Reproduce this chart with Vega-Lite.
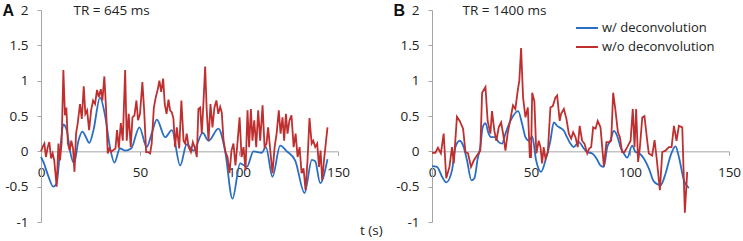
{
  "$schema": "https://vega.github.io/schema/vega-lite/v6.json",
  "padding": {"left": 2, "top": 2, "right": 0, "bottom": 4},
  "config": {
    "font": "Open Sans",
    "view": {"stroke": null},
    "axis": {"domainColor": "#a6a6a6", "tickColor": "#a6a6a6", "labelColor": "#222222", "labelFontSize": 13.5, "labelFont": "Open Sans", "grid": false, "labelFlush": false, "labelOverlap": false}
  },
  "title": {"text": "t (s)", "orient": "bottom", "anchor": "middle", "fontSize": 13.5, "fontWeight": "normal", "color": "#222222", "font": "Open Sans", "baseline": "top", "offset": -5},
  "datasets": {
    "d": [
      {"p":"A","s":"w/ deconvolution","t":0,"v":-0.08},
      {"p":"A","s":"w/ deconvolution","t":1.2,"v":-0.15},
      {"p":"A","s":"w/ deconvolution","t":3.7,"v":-0.35},
      {"p":"A","s":"w/ deconvolution","t":6.2,"v":-0.5},
      {"p":"A","s":"w/ deconvolution","t":7.9,"v":-0.45},
      {"p":"A","s":"w/ deconvolution","t":9.6,"v":0},
      {"p":"A","s":"w/ deconvolution","t":11.3,"v":0.38},
      {"p":"A","s":"w/ deconvolution","t":13.0,"v":0.3},
      {"p":"A","s":"w/ deconvolution","t":14.7,"v":0},
      {"p":"A","s":"w/ deconvolution","t":16.7,"v":-0.17},
      {"p":"A","s":"w/ deconvolution","t":18.9,"v":0.15},
      {"p":"A","s":"w/ deconvolution","t":20.9,"v":0.28},
      {"p":"A","s":"w/ deconvolution","t":22.7,"v":0.2},
      {"p":"A","s":"w/ deconvolution","t":24.4,"v":0.12},
      {"p":"A","s":"w/ deconvolution","t":26.5,"v":0.3},
      {"p":"A","s":"w/ deconvolution","t":29.8,"v":0.76},
      {"p":"A","s":"w/ deconvolution","t":32.4,"v":0.5},
      {"p":"A","s":"w/ deconvolution","t":34.9,"v":0.05},
      {"p":"A","s":"w/ deconvolution","t":37.1,"v":-0.16},
      {"p":"A","s":"w/ deconvolution","t":39.9,"v":0.04},
      {"p":"A","s":"w/ deconvolution","t":42.5,"v":0.01},
      {"p":"A","s":"w/ deconvolution","t":45.5,"v":0.04},
      {"p":"A","s":"w/ deconvolution","t":49.7,"v":0.34},
      {"p":"A","s":"w/ deconvolution","t":53.4,"v":0.06},
      {"p":"A","s":"w/ deconvolution","t":55.9,"v":0.25},
      {"p":"A","s":"w/ deconvolution","t":58.5,"v":0.45},
      {"p":"A","s":"w/ deconvolution","t":62.7,"v":0.2},
      {"p":"A","s":"w/ deconvolution","t":66.1,"v":0.3},
      {"p":"A","s":"w/ deconvolution","t":70.3,"v":-0.2},
      {"p":"A","s":"w/ deconvolution","t":73.6,"v":0.1},
      {"p":"A","s":"w/ deconvolution","t":77.0,"v":0.01},
      {"p":"A","s":"w/ deconvolution","t":81.7,"v":0.26},
      {"p":"A","s":"w/ deconvolution","t":84.6,"v":0.15},
      {"p":"A","s":"w/ deconvolution","t":89.6,"v":0.32},
      {"p":"A","s":"w/ deconvolution","t":93.0,"v":0.0},
      {"p":"A","s":"w/ deconvolution","t":96.7,"v":-0.67},
      {"p":"A","s":"w/ deconvolution","t":100.6,"v":-0.17},
      {"p":"A","s":"w/ deconvolution","t":104.0,"v":-0.22},
      {"p":"A","s":"w/ deconvolution","t":107.3,"v":0.0},
      {"p":"A","s":"w/ deconvolution","t":111.5,"v":-0.02},
      {"p":"A","s":"w/ deconvolution","t":113.6,"v":0.06},
      {"p":"A","s":"w/ deconvolution","t":116.9,"v":-0.36},
      {"p":"A","s":"w/ deconvolution","t":120.8,"v":0.08},
      {"p":"A","s":"w/ deconvolution","t":124.2,"v":0.0},
      {"p":"A","s":"w/ deconvolution","t":128.4,"v":-0.13},
      {"p":"A","s":"w/ deconvolution","t":133.1,"v":-0.59},
      {"p":"A","s":"w/ deconvolution","t":136.8,"v":-0.12},
      {"p":"A","s":"w/ deconvolution","t":138.5,"v":-0.14},
      {"p":"A","s":"w/ deconvolution","t":141.0,"v":-0.45},
      {"p":"A","s":"w/ deconvolution","t":144.7,"v":-0.11},
      {"p":"A","s":"w/o deconvolution","t":0,"v":0},
      {"p":"A","s":"w/o deconvolution","t":0.8,"v":0.06},
      {"p":"A","s":"w/o deconvolution","t":1.7,"v":0.11},
      {"p":"A","s":"w/o deconvolution","t":2.5,"v":-0.08},
      {"p":"A","s":"w/o deconvolution","t":3.4,"v":0.06},
      {"p":"A","s":"w/o deconvolution","t":4.2,"v":0.13},
      {"p":"A","s":"w/o deconvolution","t":5.1,"v":-0.1},
      {"p":"A","s":"w/o deconvolution","t":5.9,"v":-0.03},
      {"p":"A","s":"w/o deconvolution","t":6.7,"v":-0.13},
      {"p":"A","s":"w/o deconvolution","t":7.9,"v":-0.5},
      {"p":"A","s":"w/o deconvolution","t":8.8,"v":0.11},
      {"p":"A","s":"w/o deconvolution","t":9.6,"v":-0.13},
      {"p":"A","s":"w/o deconvolution","t":10.4,"v":0.11},
      {"p":"A","s":"w/o deconvolution","t":11.3,"v":1.15},
      {"p":"A","s":"w/o deconvolution","t":12.1,"v":0.51},
      {"p":"A","s":"w/o deconvolution","t":12.8,"v":0.62},
      {"p":"A","s":"w/o deconvolution","t":13.6,"v":0.11},
      {"p":"A","s":"w/o deconvolution","t":14.5,"v":0.01},
      {"p":"A","s":"w/o deconvolution","t":15.3,"v":0.15},
      {"p":"A","s":"w/o deconvolution","t":16.2,"v":0.04},
      {"p":"A","s":"w/o deconvolution","t":16.9,"v":-0.29},
      {"p":"A","s":"w/o deconvolution","t":17.7,"v":0.25},
      {"p":"A","s":"w/o deconvolution","t":18.5,"v":0.39},
      {"p":"A","s":"w/o deconvolution","t":19.7,"v":0.67},
      {"p":"A","s":"w/o deconvolution","t":20.6,"v":0.46},
      {"p":"A","s":"w/o deconvolution","t":21.6,"v":0.92},
      {"p":"A","s":"w/o deconvolution","t":22.4,"v":0.53},
      {"p":"A","s":"w/o deconvolution","t":23.3,"v":0.58},
      {"p":"A","s":"w/o deconvolution","t":24.3,"v":0.3},
      {"p":"A","s":"w/o deconvolution","t":25.3,"v":0.58},
      {"p":"A","s":"w/o deconvolution","t":26.3,"v":0.72},
      {"p":"A","s":"w/o deconvolution","t":27.3,"v":0.67},
      {"p":"A","s":"w/o deconvolution","t":28.3,"v":0.87},
      {"p":"A","s":"w/o deconvolution","t":29.2,"v":0.77},
      {"p":"A","s":"w/o deconvolution","t":30.2,"v":0.88},
      {"p":"A","s":"w/o deconvolution","t":31.0,"v":0.72},
      {"p":"A","s":"w/o deconvolution","t":32.0,"v":1.06},
      {"p":"A","s":"w/o deconvolution","t":32.9,"v":0.58},
      {"p":"A","s":"w/o deconvolution","t":33.7,"v":-0.03},
      {"p":"A","s":"w/o deconvolution","t":34.5,"v":0.04},
      {"p":"A","s":"w/o deconvolution","t":35.4,"v":-0.01},
      {"p":"A","s":"w/o deconvolution","t":36.6,"v":0.02},
      {"p":"A","s":"w/o deconvolution","t":37.6,"v":0.04},
      {"p":"A","s":"w/o deconvolution","t":38.4,"v":0.3},
      {"p":"A","s":"w/o deconvolution","t":39.3,"v":0.04},
      {"p":"A","s":"w/o deconvolution","t":40.3,"v":0.4},
      {"p":"A","s":"w/o deconvolution","t":41.3,"v":0.15},
      {"p":"A","s":"w/o deconvolution","t":42.5,"v":1.15},
      {"p":"A","s":"w/o deconvolution","t":43.3,"v":0.15},
      {"p":"A","s":"w/o deconvolution","t":44.3,"v":0.53},
      {"p":"A","s":"w/o deconvolution","t":45.3,"v":0.06},
      {"p":"A","s":"w/o deconvolution","t":46.2,"v":0.48},
      {"p":"A","s":"w/o deconvolution","t":47.2,"v":0.51},
      {"p":"A","s":"w/o deconvolution","t":48.2,"v":0.72},
      {"p":"A","s":"w/o deconvolution","t":49.0,"v":0.44},
      {"p":"A","s":"w/o deconvolution","t":50.0,"v":0.53},
      {"p":"A","s":"w/o deconvolution","t":51.2,"v":0.98},
      {"p":"A","s":"w/o deconvolution","t":52.1,"v":0.58},
      {"p":"A","s":"w/o deconvolution","t":53.1,"v":-0.01},
      {"p":"A","s":"w/o deconvolution","t":54.1,"v":-0.01},
      {"p":"A","s":"w/o deconvolution","t":55.1,"v":-0.03},
      {"p":"A","s":"w/o deconvolution","t":55.9,"v":0.11},
      {"p":"A","s":"w/o deconvolution","t":57.0,"v":0.62},
      {"p":"A","s":"w/o deconvolution","t":58.0,"v":0.77},
      {"p":"A","s":"w/o deconvolution","t":59.0,"v":0.88},
      {"p":"A","s":"w/o deconvolution","t":59.8,"v":1.0},
      {"p":"A","s":"w/o deconvolution","t":60.7,"v":0.84},
      {"p":"A","s":"w/o deconvolution","t":61.7,"v":1.03},
      {"p":"A","s":"w/o deconvolution","t":62.5,"v":0.67},
      {"p":"A","s":"w/o deconvolution","t":63.4,"v":0.53},
      {"p":"A","s":"w/o deconvolution","t":64.4,"v":0.73},
      {"p":"A","s":"w/o deconvolution","t":65.2,"v":0.58},
      {"p":"A","s":"w/o deconvolution","t":66.1,"v":0.55},
      {"p":"A","s":"w/o deconvolution","t":66.9,"v":0.46},
      {"p":"A","s":"w/o deconvolution","t":67.7,"v":0.06},
      {"p":"A","s":"w/o deconvolution","t":68.6,"v":0.34},
      {"p":"A","s":"w/o deconvolution","t":69.8,"v":0.04},
      {"p":"A","s":"w/o deconvolution","t":70.9,"v":0.72},
      {"p":"A","s":"w/o deconvolution","t":72.0,"v":0.15},
      {"p":"A","s":"w/o deconvolution","t":72.8,"v":0.11},
      {"p":"A","s":"w/o deconvolution","t":73.6,"v":0.25},
      {"p":"A","s":"w/o deconvolution","t":74.6,"v":0.06},
      {"p":"A","s":"w/o deconvolution","t":75.7,"v":-0.01},
      {"p":"A","s":"w/o deconvolution","t":76.7,"v":0.13},
      {"p":"A","s":"w/o deconvolution","t":77.8,"v":0.04},
      {"p":"A","s":"w/o deconvolution","t":78.7,"v":-0.08},
      {"p":"A","s":"w/o deconvolution","t":79.5,"v":0.6},
      {"p":"A","s":"w/o deconvolution","t":80.4,"v":0.62},
      {"p":"A","s":"w/o deconvolution","t":81.2,"v":0.25},
      {"p":"A","s":"w/o deconvolution","t":82.1,"v":0.72},
      {"p":"A","s":"w/o deconvolution","t":82.9,"v":1.2},
      {"p":"A","s":"w/o deconvolution","t":83.7,"v":0.58},
      {"p":"A","s":"w/o deconvolution","t":84.6,"v":0.15},
      {"p":"A","s":"w/o deconvolution","t":85.6,"v":0.67},
      {"p":"A","s":"w/o deconvolution","t":86.6,"v":0.34},
      {"p":"A","s":"w/o deconvolution","t":87.6,"v":0.62},
      {"p":"A","s":"w/o deconvolution","t":88.6,"v":0.72},
      {"p":"A","s":"w/o deconvolution","t":89.5,"v":0.53},
      {"p":"A","s":"w/o deconvolution","t":90.5,"v":0.63},
      {"p":"A","s":"w/o deconvolution","t":91.3,"v":0.55},
      {"p":"A","s":"w/o deconvolution","t":92.2,"v":0.15},
      {"p":"A","s":"w/o deconvolution","t":93.2,"v":-0.01},
      {"p":"A","s":"w/o deconvolution","t":94.2,"v":-0.08},
      {"p":"A","s":"w/o deconvolution","t":95.2,"v":-0.31},
      {"p":"A","s":"w/o deconvolution","t":96.2,"v":0.01},
      {"p":"A","s":"w/o deconvolution","t":97.2,"v":0.11},
      {"p":"A","s":"w/o deconvolution","t":98.2,"v":-0.2},
      {"p":"A","s":"w/o deconvolution","t":99.2,"v":0.11},
      {"p":"A","s":"w/o deconvolution","t":100.3,"v":0.48},
      {"p":"A","s":"w/o deconvolution","t":101.3,"v":-0.08},
      {"p":"A","s":"w/o deconvolution","t":102.3,"v":0.06},
      {"p":"A","s":"w/o deconvolution","t":103.3,"v":-0.27},
      {"p":"A","s":"w/o deconvolution","t":104.3,"v":0.58},
      {"p":"A","s":"w/o deconvolution","t":105.1,"v":0.06},
      {"p":"A","s":"w/o deconvolution","t":106.0,"v":0.6},
      {"p":"A","s":"w/o deconvolution","t":106.8,"v":0.15},
      {"p":"A","s":"w/o deconvolution","t":107.7,"v":0.44},
      {"p":"A","s":"w/o deconvolution","t":108.7,"v":0.06},
      {"p":"A","s":"w/o deconvolution","t":109.7,"v":0.58},
      {"p":"A","s":"w/o deconvolution","t":110.7,"v":0.15},
      {"p":"A","s":"w/o deconvolution","t":111.9,"v":0.65},
      {"p":"A","s":"w/o deconvolution","t":112.9,"v":0.06},
      {"p":"A","s":"w/o deconvolution","t":113.9,"v":0.11},
      {"p":"A","s":"w/o deconvolution","t":114.7,"v":0.34},
      {"p":"A","s":"w/o deconvolution","t":115.8,"v":0.01},
      {"p":"A","s":"w/o deconvolution","t":116.9,"v":-0.31},
      {"p":"A","s":"w/o deconvolution","t":118.0,"v":0.06},
      {"p":"A","s":"w/o deconvolution","t":119.0,"v":0.25},
      {"p":"A","s":"w/o deconvolution","t":120.1,"v":0.58},
      {"p":"A","s":"w/o deconvolution","t":121.0,"v":0.25},
      {"p":"A","s":"w/o deconvolution","t":122.0,"v":0.48},
      {"p":"A","s":"w/o deconvolution","t":122.8,"v":0.15},
      {"p":"A","s":"w/o deconvolution","t":123.7,"v":0.53},
      {"p":"A","s":"w/o deconvolution","t":124.5,"v":0.25},
      {"p":"A","s":"w/o deconvolution","t":125.5,"v":0.44},
      {"p":"A","s":"w/o deconvolution","t":126.5,"v":0.51},
      {"p":"A","s":"w/o deconvolution","t":127.6,"v":0.06},
      {"p":"A","s":"w/o deconvolution","t":128.6,"v":0.25},
      {"p":"A","s":"w/o deconvolution","t":129.6,"v":-0.08},
      {"p":"A","s":"w/o deconvolution","t":130.6,"v":0.06},
      {"p":"A","s":"w/o deconvolution","t":131.6,"v":-0.31},
      {"p":"A","s":"w/o deconvolution","t":132.6,"v":-0.24},
      {"p":"A","s":"w/o deconvolution","t":133.6,"v":-0.55},
      {"p":"A","s":"w/o deconvolution","t":134.6,"v":-0.13},
      {"p":"A","s":"w/o deconvolution","t":135.6,"v":0.47},
      {"p":"A","s":"w/o deconvolution","t":136.7,"v":0.11},
      {"p":"A","s":"w/o deconvolution","t":137.5,"v":0.15},
      {"p":"A","s":"w/o deconvolution","t":138.5,"v":0.06},
      {"p":"A","s":"w/o deconvolution","t":139.5,"v":0.11},
      {"p":"A","s":"w/o deconvolution","t":140.4,"v":-0.22},
      {"p":"A","s":"w/o deconvolution","t":141.2,"v":0.01},
      {"p":"A","s":"w/o deconvolution","t":142.0,"v":-0.41},
      {"p":"A","s":"w/o deconvolution","t":143.1,"v":-0.08},
      {"p":"A","s":"w/o deconvolution","t":144.7,"v":0.34},
      {"p":"B","s":"w/ deconvolution","t":0,"v":-0.21},
      {"p":"B","s":"w/ deconvolution","t":2.5,"v":-0.22},
      {"p":"B","s":"w/ deconvolution","t":5.1,"v":-0.36},
      {"p":"B","s":"w/ deconvolution","t":7.2,"v":-0.44},
      {"p":"B","s":"w/ deconvolution","t":10.1,"v":-0.27},
      {"p":"B","s":"w/ deconvolution","t":11.8,"v":0.06},
      {"p":"B","s":"w/ deconvolution","t":14.0,"v":0.15},
      {"p":"B","s":"w/ deconvolution","t":16.0,"v":0.06},
      {"p":"B","s":"w/ deconvolution","t":17.7,"v":-0.13},
      {"p":"B","s":"w/ deconvolution","t":19.9,"v":-0.41},
      {"p":"B","s":"w/ deconvolution","t":21.4,"v":-0.38},
      {"p":"B","s":"w/ deconvolution","t":23.1,"v":-0.1},
      {"p":"B","s":"w/ deconvolution","t":24.4,"v":0.06},
      {"p":"B","s":"w/ deconvolution","t":25.6,"v":0.34},
      {"p":"B","s":"w/ deconvolution","t":27.0,"v":0.4},
      {"p":"B","s":"w/ deconvolution","t":28.6,"v":0.25},
      {"p":"B","s":"w/ deconvolution","t":29.8,"v":0.2},
      {"p":"B","s":"w/ deconvolution","t":31.7,"v":0.2},
      {"p":"B","s":"w/ deconvolution","t":33.7,"v":0.13},
      {"p":"B","s":"w/ deconvolution","t":35.4,"v":0.11},
      {"p":"B","s":"w/ deconvolution","t":37.1,"v":0.25},
      {"p":"B","s":"w/ deconvolution","t":39.6,"v":0.43},
      {"p":"B","s":"w/ deconvolution","t":43.5,"v":0.57},
      {"p":"B","s":"w/ deconvolution","t":45.5,"v":0.39},
      {"p":"B","s":"w/ deconvolution","t":47.2,"v":0.2},
      {"p":"B","s":"w/ deconvolution","t":48.9,"v":0.15},
      {"p":"B","s":"w/ deconvolution","t":50.6,"v":0.21},
      {"p":"B","s":"w/ deconvolution","t":52.6,"v":-0.13},
      {"p":"B","s":"w/ deconvolution","t":55.1,"v":-0.29},
      {"p":"B","s":"w/ deconvolution","t":57.3,"v":-0.13},
      {"p":"B","s":"w/ deconvolution","t":59.8,"v":0.15},
      {"p":"B","s":"w/ deconvolution","t":61.5,"v":0.41},
      {"p":"B","s":"w/ deconvolution","t":63.2,"v":0.36},
      {"p":"B","s":"w/ deconvolution","t":64.9,"v":0.33},
      {"p":"B","s":"w/ deconvolution","t":66.6,"v":0.29},
      {"p":"B","s":"w/ deconvolution","t":68.2,"v":0.2},
      {"p":"B","s":"w/ deconvolution","t":69.9,"v":0.11},
      {"p":"B","s":"w/ deconvolution","t":71.6,"v":0.06},
      {"p":"B","s":"w/ deconvolution","t":74.1,"v":0.13},
      {"p":"B","s":"w/ deconvolution","t":76.7,"v":0.04},
      {"p":"B","s":"w/ deconvolution","t":78.4,"v":-0.01},
      {"p":"B","s":"w/ deconvolution","t":80.9,"v":-0.03},
      {"p":"B","s":"w/ deconvolution","t":83.1,"v":-0.1},
      {"p":"B","s":"w/ deconvolution","t":85.1,"v":-0.2},
      {"p":"B","s":"w/ deconvolution","t":86.8,"v":-0.22},
      {"p":"B","s":"w/ deconvolution","t":88.5,"v":0.06},
      {"p":"B","s":"w/ deconvolution","t":90.1,"v":0.15},
      {"p":"B","s":"w/ deconvolution","t":91.8,"v":0.29},
      {"p":"B","s":"w/ deconvolution","t":93.5,"v":0.22},
      {"p":"B","s":"w/ deconvolution","t":95.2,"v":0.06},
      {"p":"B","s":"w/ deconvolution","t":96.9,"v":-0.03},
      {"p":"B","s":"w/ deconvolution","t":98.6,"v":-0.09},
      {"p":"B","s":"w/ deconvolution","t":101.1,"v":0.08},
      {"p":"B","s":"w/ deconvolution","t":102.8,"v":-0.01},
      {"p":"B","s":"w/ deconvolution","t":104.8,"v":-0.03},
      {"p":"B","s":"w/ deconvolution","t":107.0,"v":-0.1},
      {"p":"B","s":"w/ deconvolution","t":109.5,"v":-0.24},
      {"p":"B","s":"w/ deconvolution","t":112.1,"v":-0.43},
      {"p":"B","s":"w/ deconvolution","t":115.4,"v":-0.48},
      {"p":"B","s":"w/ deconvolution","t":118.0,"v":-0.31},
      {"p":"B","s":"w/ deconvolution","t":120.5,"v":-0.06},
      {"p":"B","s":"w/ deconvolution","t":123.0,"v":0.07},
      {"p":"B","s":"w/ deconvolution","t":124.7,"v":-0.08},
      {"p":"B","s":"w/ deconvolution","t":127.2,"v":-0.41},
      {"p":"B","s":"w/ deconvolution","t":129.7,"v":-0.52},
      {"p":"B","s":"w/o deconvolution","t":0,"v":-0.02},
      {"p":"B","s":"w/o deconvolution","t":1.7,"v":-0.02},
      {"p":"B","s":"w/o deconvolution","t":3.0,"v":0.05},
      {"p":"B","s":"w/o deconvolution","t":4.5,"v":-0.03},
      {"p":"B","s":"w/o deconvolution","t":5.9,"v":0.25},
      {"p":"B","s":"w/o deconvolution","t":7.2,"v":-0.38},
      {"p":"B","s":"w/o deconvolution","t":8.8,"v":-0.22},
      {"p":"B","s":"w/o deconvolution","t":10.1,"v":0.06},
      {"p":"B","s":"w/o deconvolution","t":11.0,"v":-0.17},
      {"p":"B","s":"w/o deconvolution","t":12.6,"v":0.49},
      {"p":"B","s":"w/o deconvolution","t":14.0,"v":0.43},
      {"p":"B","s":"w/o deconvolution","t":15.7,"v":0.32},
      {"p":"B","s":"w/o deconvolution","t":16.9,"v":-0.01},
      {"p":"B","s":"w/o deconvolution","t":18.2,"v":-0.03},
      {"p":"B","s":"w/o deconvolution","t":19.7,"v":-0.22},
      {"p":"B","s":"w/o deconvolution","t":21.1,"v":-0.13},
      {"p":"B","s":"w/o deconvolution","t":22.7,"v":-0.06},
      {"p":"B","s":"w/o deconvolution","t":24.4,"v":0.01},
      {"p":"B","s":"w/o deconvolution","t":25.3,"v":0.83},
      {"p":"B","s":"w/o deconvolution","t":27.0,"v":0.91},
      {"p":"B","s":"w/o deconvolution","t":28.1,"v":0.43},
      {"p":"B","s":"w/o deconvolution","t":29.5,"v":0.25},
      {"p":"B","s":"w/o deconvolution","t":30.3,"v":0.57},
      {"p":"B","s":"w/o deconvolution","t":31.5,"v":0.29},
      {"p":"B","s":"w/o deconvolution","t":32.5,"v":0.15},
      {"p":"B","s":"w/o deconvolution","t":33.7,"v":0.34},
      {"p":"B","s":"w/o deconvolution","t":34.9,"v":0.41},
      {"p":"B","s":"w/o deconvolution","t":35.9,"v":0.25},
      {"p":"B","s":"w/o deconvolution","t":37.1,"v":0.01},
      {"p":"B","s":"w/o deconvolution","t":38.2,"v":0.25},
      {"p":"B","s":"w/o deconvolution","t":39.9,"v":0.5},
      {"p":"B","s":"w/o deconvolution","t":40.9,"v":0.65},
      {"p":"B","s":"w/o deconvolution","t":42.1,"v":0.6},
      {"p":"B","s":"w/o deconvolution","t":43.3,"v":0.86},
      {"p":"B","s":"w/o deconvolution","t":44.1,"v":1.0},
      {"p":"B","s":"w/o deconvolution","t":45.0,"v":1.46},
      {"p":"B","s":"w/o deconvolution","t":46.0,"v":0.76},
      {"p":"B","s":"w/o deconvolution","t":47.2,"v":0.48},
      {"p":"B","s":"w/o deconvolution","t":48.4,"v":0.62},
      {"p":"B","s":"w/o deconvolution","t":49.4,"v":-0.08},
      {"p":"B","s":"w/o deconvolution","t":50.0,"v":-0.08},
      {"p":"B","s":"w/o deconvolution","t":50.6,"v":0.83},
      {"p":"B","s":"w/o deconvolution","t":51.7,"v":0.71},
      {"p":"B","s":"w/o deconvolution","t":52.7,"v":-0.03},
      {"p":"B","s":"w/o deconvolution","t":53.9,"v":0.15},
      {"p":"B","s":"w/o deconvolution","t":54.8,"v":0.06},
      {"p":"B","s":"w/o deconvolution","t":55.6,"v":-0.17},
      {"p":"B","s":"w/o deconvolution","t":56.4,"v":0.06},
      {"p":"B","s":"w/o deconvolution","t":57.3,"v":-0.1},
      {"p":"B","s":"w/o deconvolution","t":58.5,"v":-0.01},
      {"p":"B","s":"w/o deconvolution","t":59.8,"v":0.62},
      {"p":"B","s":"w/o deconvolution","t":61.0,"v":0.64},
      {"p":"B","s":"w/o deconvolution","t":62.3,"v":0.76},
      {"p":"B","s":"w/o deconvolution","t":63.2,"v":0.79},
      {"p":"B","s":"w/o deconvolution","t":64.5,"v":0.43},
      {"p":"B","s":"w/o deconvolution","t":65.2,"v":0.53},
      {"p":"B","s":"w/o deconvolution","t":66.6,"v":0.6},
      {"p":"B","s":"w/o deconvolution","t":67.9,"v":0.46},
      {"p":"B","s":"w/o deconvolution","t":69.1,"v":0.25},
      {"p":"B","s":"w/o deconvolution","t":70.3,"v":0.18},
      {"p":"B","s":"w/o deconvolution","t":71.3,"v":0.27},
      {"p":"B","s":"w/o deconvolution","t":72.5,"v":0.2},
      {"p":"B","s":"w/o deconvolution","t":73.6,"v":0.06},
      {"p":"B","s":"w/o deconvolution","t":74.6,"v":0.36},
      {"p":"B","s":"w/o deconvolution","t":75.8,"v":0.15},
      {"p":"B","s":"w/o deconvolution","t":77.0,"v":0.11},
      {"p":"B","s":"w/o deconvolution","t":78.4,"v":-0.03},
      {"p":"B","s":"w/o deconvolution","t":79.4,"v":0.04},
      {"p":"B","s":"w/o deconvolution","t":80.4,"v":0.06},
      {"p":"B","s":"w/o deconvolution","t":81.4,"v":0.34},
      {"p":"B","s":"w/o deconvolution","t":82.6,"v":0.32},
      {"p":"B","s":"w/o deconvolution","t":83.7,"v":0.43},
      {"p":"B","s":"w/o deconvolution","t":85.1,"v":0.34},
      {"p":"B","s":"w/o deconvolution","t":86.8,"v":-0.21},
      {"p":"B","s":"w/o deconvolution","t":88.1,"v":0.13},
      {"p":"B","s":"w/o deconvolution","t":89.3,"v":0.13},
      {"p":"B","s":"w/o deconvolution","t":90.5,"v":0.15},
      {"p":"B","s":"w/o deconvolution","t":91.5,"v":0.83},
      {"p":"B","s":"w/o deconvolution","t":92.7,"v":0.57},
      {"p":"B","s":"w/o deconvolution","t":93.9,"v":0.27},
      {"p":"B","s":"w/o deconvolution","t":94.9,"v":0.2},
      {"p":"B","s":"w/o deconvolution","t":96.0,"v":-0.01},
      {"p":"B","s":"w/o deconvolution","t":97.2,"v":-0.01},
      {"p":"B","s":"w/o deconvolution","t":98.6,"v":0.06},
      {"p":"B","s":"w/o deconvolution","t":100.3,"v":0.15},
      {"p":"B","s":"w/o deconvolution","t":101.4,"v":0.6},
      {"p":"B","s":"w/o deconvolution","t":102.3,"v":0.06},
      {"p":"B","s":"w/o deconvolution","t":103.1,"v":0.6},
      {"p":"B","s":"w/o deconvolution","t":104.1,"v":-0.15},
      {"p":"B","s":"w/o deconvolution","t":105.0,"v":0.06},
      {"p":"B","s":"w/o deconvolution","t":106.2,"v":0.48},
      {"p":"B","s":"w/o deconvolution","t":107.3,"v":0.5},
      {"p":"B","s":"w/o deconvolution","t":108.7,"v":0.15},
      {"p":"B","s":"w/o deconvolution","t":109.5,"v":-0.03},
      {"p":"B","s":"w/o deconvolution","t":111.2,"v":-0.06},
      {"p":"B","s":"w/o deconvolution","t":112.4,"v":0.16},
      {"p":"B","s":"w/o deconvolution","t":113.4,"v":-0.08},
      {"p":"B","s":"w/o deconvolution","t":115.1,"v":-0.55},
      {"p":"B","s":"w/o deconvolution","t":116.3,"v":-0.01},
      {"p":"B","s":"w/o deconvolution","t":117.9,"v":0.01},
      {"p":"B","s":"w/o deconvolution","t":119.6,"v":0.06},
      {"p":"B","s":"w/o deconvolution","t":121.0,"v":0.06},
      {"p":"B","s":"w/o deconvolution","t":122.2,"v":0.36},
      {"p":"B","s":"w/o deconvolution","t":123.5,"v":0.15},
      {"p":"B","s":"w/o deconvolution","t":124.7,"v":0.36},
      {"p":"B","s":"w/o deconvolution","t":126.4,"v":0.34},
      {"p":"B","s":"w/o deconvolution","t":127.7,"v":-0.87},
      {"p":"B","s":"w/o deconvolution","t":128.9,"v":-0.29}
    ]
  },
  "spacing": 43,
  "resolve": {"scale": {"color": "independent"}},
  "hconcat": [
    {
      "width": 297,
      "height": 212,
      "data": {"name": "d"},
      "transform": [{"filter": "datum.p === 'A'"}],
      "encoding": {
        "x": {"field": "t", "type": "quantitative", "scale": {"domain": [0, 150], "nice": false},
          "axis": {"values": [0, 50, 100, 150], "offset": -70.67, "tickSize": 4, "labelPadding": 10,
            "title": "TR = 645 ms", "titleX": 32, "titleY": -141, "titleAlign": "left", "titleBaseline": "middle",
            "titleFontSize": 13.5, "titleFontWeight": "normal", "titleColor": "#222222"}},
        "y": {"field": "v", "type": "quantitative", "scale": {"domain": [-1, 2], "nice": false},
          "axis": {"values": [-1, -0.5, 0, 0.5, 1, 1.5, 2], "tickSize": 4, "labelPadding": 9, "labelOverlap": false,
            "labelExpr": "replace(format(datum.value, '~g'), '\u2212', '-')",
            "title": "A", "titleAngle": 0, "titleX": -39, "titleY": 0, "titleAlign": "left", "titleBaseline": "middle",
            "titleFont": "Liberation Sans", "titleFontSize": 16, "titleFontWeight": "bold", "titleColor": "#111111"}},
        "color": {"field": "s", "type": "nominal",
          "scale": {"domain": ["w/ deconvolution", "w/o deconvolution"], "range": ["#2a6ec4", "#bf2f2f"]},
          "legend": null}
      },
      "layer": [
        {
          "transform": [{"filter": "datum.s === 'w/ deconvolution'"}],
          "mark": {"type": "line", "strokeWidth": 1.8, "interpolate": "monotone"}
        },
        {
          "transform": [{"filter": "datum.s === 'w/o deconvolution'"}],
          "mark": {"type": "line", "strokeWidth": 1.8}
        }
      ]
    },
    {
      "width": 297,
      "height": 212,
      "data": {"name": "d"},
      "transform": [{"filter": "datum.p === 'B'"}],
      "encoding": {
        "x": {"field": "t", "type": "quantitative", "scale": {"domain": [0, 150], "nice": false},
          "axis": {"values": [0, 50, 100, 150], "offset": -70.67, "tickSize": 4, "labelPadding": 10,
            "title": "TR = 1400 ms", "titleX": 30, "titleY": -141, "titleAlign": "left", "titleBaseline": "middle",
            "titleFontSize": 13.5, "titleFontWeight": "normal", "titleColor": "#222222"}},
        "y": {"field": "v", "type": "quantitative", "scale": {"domain": [-1, 2], "nice": false},
          "axis": {"values": [-1, -0.5, 0, 0.5, 1, 1.5, 2], "tickSize": 4, "labelPadding": 9, "labelOverlap": false,
            "labelExpr": "replace(format(datum.value, '~g'), '\u2212', '-')",
            "title": "B", "titleAngle": 0, "titleX": -39, "titleY": 0, "titleAlign": "left", "titleBaseline": "middle",
            "titleFont": "Liberation Sans", "titleFontSize": 16, "titleFontWeight": "bold", "titleColor": "#111111"}},
        "color": {"field": "s", "type": "nominal",
          "scale": {"domain": ["w/ deconvolution", "w/o deconvolution"], "range": ["#2a6ec4", "#bf2f2f"]},
          "legend": {"title": null, "orient": "none", "legendX": 143, "legendY": 6, "symbolType": "stroke",
            "symbolSize": 484, "symbolStrokeWidth": 2, "labelOffset": 3, "rowPadding": 0, "padding": 0,
            "labelFontSize": 13, "labelColor": "#222222", "labelFont": "Open Sans"}}
      },
      "layer": [
        {
          "transform": [{"filter": "datum.s === 'w/ deconvolution'"}],
          "mark": {"type": "line", "strokeWidth": 1.8, "interpolate": "monotone"}
        },
        {
          "transform": [{"filter": "datum.s === 'w/o deconvolution'"}],
          "mark": {"type": "line", "strokeWidth": 1.8}
        }
      ]
    }
  ]
}
